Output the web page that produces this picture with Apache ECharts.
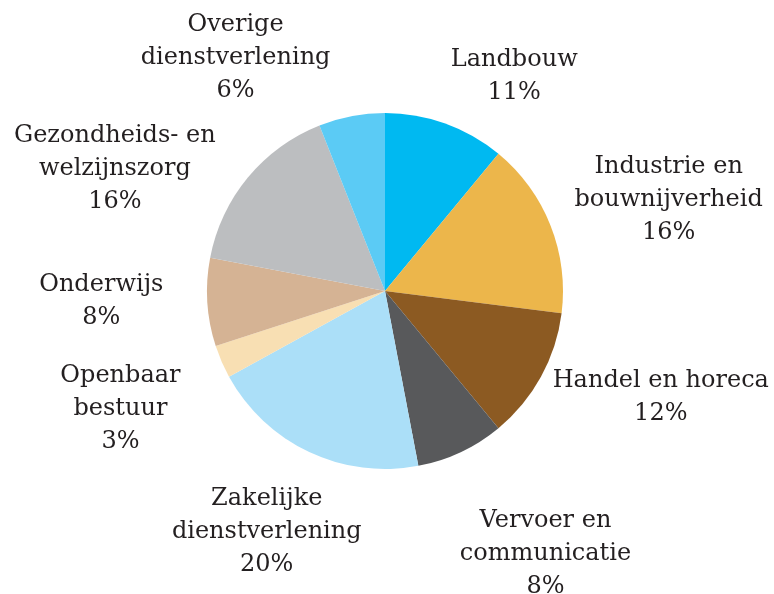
<!DOCTYPE html>
<html>
<head>
<meta charset="utf-8">
<script src="https://cdn.jsdelivr.net/npm/echarts@6/dist/echarts.min.js"></script>
<style>
html,body{margin:0;padding:0;background:#fff;}
#chart{width:774px;height:594px;}
</style>
</head>
<body>
<div id="chart"></div>
<script>
// Data
var categories = [
  'Landbouw',
  'Industrie en\nbouwnijverheid',
  'Handel en horeca',
  'Vervoer en\ncommunicatie',
  'Zakelijke\ndienstverlening',
  'Openbaar\nbestuur',
  'Onderwijs',
  'Gezondheids- en\nwelzijnszorg',
  'Overige\ndienstverlening'
];
var values = [11, 16, 12, 8, 20, 3, 8, 16, 6];

// Styles
var colors = ['#00b9f1', '#ecb64b', '#8c5a22', '#58595b', '#abdff8', '#f8dfb3', '#d5b394', '#bcbec0', '#5bcbf5'];
var labelLineLen = [50, 69, 42, 112, 88, 119, -19, 13, 59];
var labelLineLen2 = [52, 54, 83, 37, 5, -8, 125, 123, 105];

var data = categories.map(function (name, i) {
  return {
    name: name,
    value: values[i],
    itemStyle: { color: colors[i] },
    labelLine: { show: false, length: labelLineLen[i], length2: labelLineLen2[i] }
  };
});

var chart = echarts.init(document.getElementById('chart'), null, { renderer: 'canvas' });
chart.setOption({
  animation: false,
  backgroundColor: '#ffffff',
  series: [{
    type: 'pie',
    center: [385, 291],
    radius: 178,
    startAngle: 90,
    clockwise: true,
    avoidLabelOverlap: false,
    itemStyle: { borderWidth: 0 },
    label: {
      show: true,
      position: 'outside',
      formatter: '{b}\n{c}%',
      fontFamily: 'DejaVu Serif',
      fontSize: 24,
      lineHeight: 33,
      color: '#231f20',
      distanceToLabelLine: 0
    },
    labelLine: { show: false },
    labelLayout: function () {
      return { align: 'center', verticalAlign: 'middle' };
    },
    emphasis: { disabled: true },
    data: data
  }]
});
</script>
</body>
</html>
